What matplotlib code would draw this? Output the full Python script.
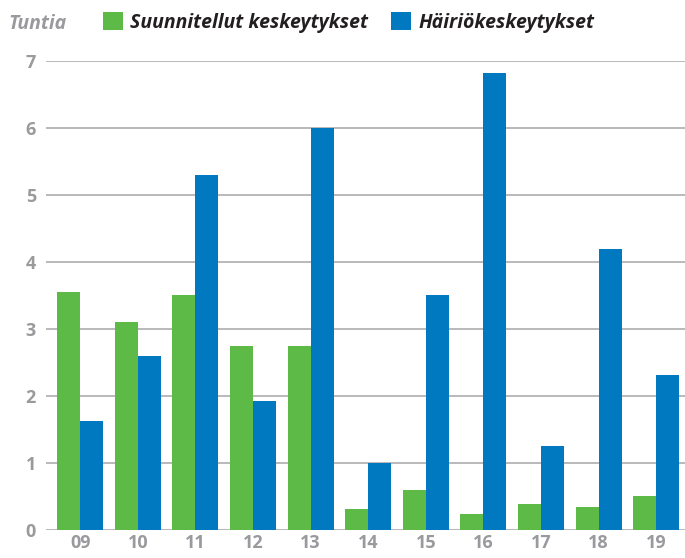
import numpy as np
import matplotlib.pyplot as plt

years = ['09', '10', '11', '12', '13', '14', '15', '16', '17', '18', '19']
planned = [3.55, 3.1, 3.5, 2.75, 2.75, 0.32, 0.6, 0.24, 0.39, 0.34, 0.5]
faults = [1.63, 2.6, 5.3, 1.93, 6.0, 1.0, 3.5, 6.82, 1.26, 4.2, 2.32]

green = '#5dba47'
blue = '#0079c1'
grey = '#9a9a9e'

plt.rcParams['font.family'] = ['Open Sans', 'DejaVu Sans']

fig = plt.figure(figsize=(6.85, 5.58), dpi=100)
ax = fig.add_axes([0.0667, 0.0502, 0.9333, 0.8405])

x = np.arange(len(years))
w = 0.4
ax.bar(x - w / 2, planned, w, color=green, label='Suunnitellut keskeytykset', zorder=2)
ax.bar(x + w / 2, faults, w, color=blue, label='Häiriökeskeytykset', zorder=2)

ax.set_xlim(-0.6, 10.5)
ax.set_ylim(0, 7)
ax.set_yticks(range(8))
ax.set_xticks(x)
ax.set_xticklabels(years)
for y in range(8):
    ax.axhline(y, color='#a5a5a8', lw=1.1, zorder=1)

for s in ax.spines.values():
    s.set_visible(False)
ax.tick_params(length=0, labelsize=13, colors=grey)
ax.tick_params(axis='y', pad=7)
ax.tick_params(axis='x', pad=3)
for lbl in ax.get_xticklabels() + ax.get_yticklabels():
    lbl.set_fontweight('bold')

fig.text(0.0127, 0.948, 'Tuntia', color=grey, fontsize=14, fontstyle='italic',
         fontweight='bold', va='baseline')
leg = fig.legend(loc='center left', bbox_to_anchor=(0.1504, 0.9597), ncol=2,
                 frameon=False, borderpad=0, borderaxespad=0,
                 handlelength=1.03, handleheight=1.08,
                 handletextpad=0.36, columnspacing=1.19,
                 prop={'size': 14, 'style': 'italic', 'weight': 'bold'})
for t in leg.get_texts():
    t.set_color('#231f20')

fig.savefig('out.png', dpi=100)
